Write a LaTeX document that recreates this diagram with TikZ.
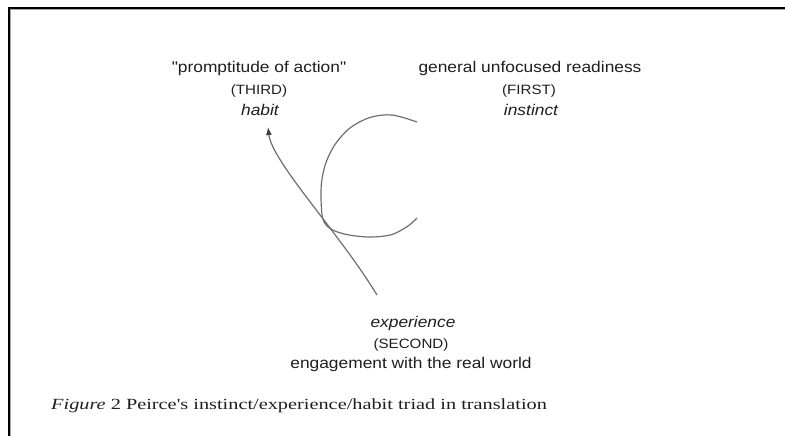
\documentclass[tikz,border=0pt]{standalone}
\usepackage{fontspec}
\setmainfont{Liberation Serif}
\newfontfamily\labfont[FakeStretch=1.12]{Liberation Sans}
\newfontfamily\capfont[FakeStretch=1.31]{Liberation Serif}
\usetikzlibrary{arrows.meta}
\definecolor{ink}{HTML}{1E1E1E}
\definecolor{curve}{HTML}{6E6E6E}
\tikzset{
  biglab/.style={anchor=base, inner sep=0pt, text=ink, font=\labfont\fontsize{15.5}{18}\selectfont},
  smalllab/.style={anchor=base, inner sep=0pt, text=ink, font=\labfont\fontsize{13.5}{16}\selectfont},
  caplab/.style={anchor=base west, inner sep=0pt, text=ink, font=\capfont\fontsize{15.5}{18}\selectfont},
  curveline/.style={draw=curve, line width=1.2pt},
}
\begin{document}
\begin{tikzpicture}[x=1pt,y=-1pt]
\useasboundingbox (0,0) rectangle (785,436);
% frame
\draw[line width=2pt, black] (8.5,436) -- (8.5,8.5) -- (785,8.5);
\draw[line width=1pt, gray!70] (10,436) -- (10,10) -- (785,10);
% labels
\node[biglab] (prompt) at (259,73) {"promptitude of action"};
\node[smalllab] (third) at (259,95) {(THIRD)};
\node[biglab] (habit) at (260,115) {\itshape habit};
\node[biglab] (general) at (530,73) {general unfocused readiness};
\node[smalllab] (first) at (529,95) {(FIRST)};
\node[biglab] (instinct) at (531,115) {\itshape instinct};
\node[biglab] (experience) at (413,327) {\itshape experience};
\node[smalllab] (second) at (411,348) {(SECOND)};
\node[biglab] (engage) at (411,368) {engagement with the real world};
\node[caplab] (caption) at (51,409.6) {\itshape Figure \upshape 2 Peirce's instinct/experience/habit triad in translation};
% instinct arc
\draw[curveline] plot[smooth, tension=0.55] coordinates {(417,122) (392,115) (370,117.5) (350,128) (335,144.5) (326,162.5) (322,179) (321,193) (321.5,209) (323,219.5) (327,226) (336,231.5) (352,235.5) (372,237) (392,234.5) (408,226) (417,218)};
% experience -> habit arrow
\coordinate (expstart) at (377,295);
\coordinate (habitend) at (268,127);
\draw[curveline, -{Latex[length=8pt,width=6pt,color=ink!85]}] (expstart) .. controls (338,231) and (272,162) .. (habitend);
\end{tikzpicture}
\end{document}
